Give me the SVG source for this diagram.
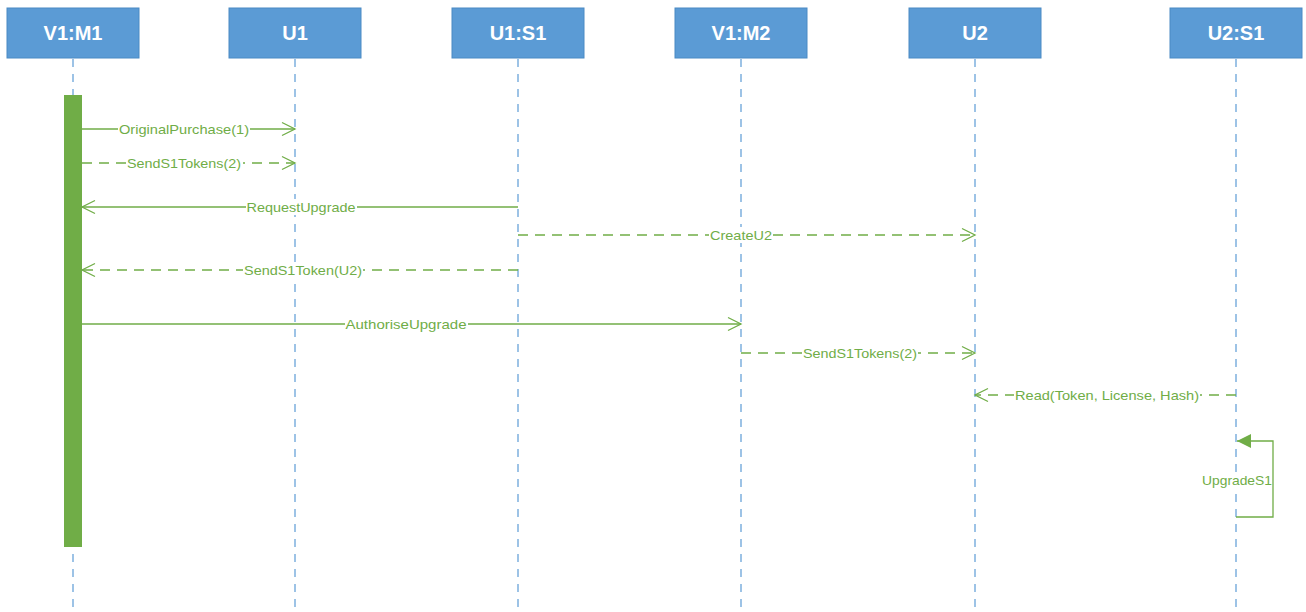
<svg xmlns="http://www.w3.org/2000/svg" width="1306" height="612" viewBox="0 0 1306 612">
<style>
.box{fill:#5B9BD5;stroke:#4A8AC4;stroke-width:1}
.bt{font-family:"Liberation Sans",Arial,sans-serif;font-size:20px;font-weight:bold;fill:#fff;text-anchor:middle}
.life{stroke:#9DC3E6;stroke-width:2;stroke-dasharray:8 7;fill:none}
.msg{stroke:#70AD47;stroke-width:1.3;fill:none}
.dash{stroke-dasharray:10 7}
.lbl{font-family:"Liberation Sans",Arial,sans-serif;font-size:13px;fill:#70AD47;text-anchor:middle}
.bg{fill:#fff}
</style>
<defs>
<marker id="open" markerWidth="16" markerHeight="16" refX="14" refY="8" orient="auto" markerUnits="userSpaceOnUse">
<path d="M1,1.5 L14,8 L1,14.5" fill="none" stroke="#70AD47" stroke-width="1.3"/>
</marker>
<marker id="fill" markerWidth="16" markerHeight="16" refX="15" refY="8" orient="auto" markerUnits="userSpaceOnUse">
<path d="M1,1 L15,8 L1,15 Z" fill="#70AD47"/>
</marker>
</defs>
<rect width="1306" height="612" fill="#fff"/>
<g id="lifelines">
<line class="life" x1="73" y1="59" x2="73" y2="612"/>
<line class="life" x1="295" y1="59" x2="295" y2="612"/>
<line class="life" x1="518" y1="59" x2="518" y2="612"/>
<line class="life" x1="741" y1="59" x2="741" y2="612"/>
<line class="life" x1="975" y1="59" x2="975" y2="612"/>
<line class="life" x1="1236" y1="59" x2="1236" y2="612"/>
</g>
<g id="V1M1"><rect class="box" x="7" y="8" width="132" height="50"/><text class="bt" x="73" y="40">V1:M1</text></g>
<g id="U1"><rect class="box" x="229" y="8" width="132" height="50"/><text class="bt" x="295" y="40">U1</text></g>
<g id="U1S1"><rect class="box" x="452" y="8" width="132" height="50"/><text class="bt" x="518" y="40">U1:S1</text></g>
<g id="V1M2"><rect class="box" x="675" y="8" width="132" height="50"/><text class="bt" x="741" y="40">V1:M2</text></g>
<g id="U2"><rect class="box" x="909" y="8" width="132" height="50"/><text class="bt" x="975" y="40">U2</text></g>
<g id="U2S1"><rect class="box" x="1170" y="8" width="132" height="50"/><text class="bt" x="1236" y="40">U2:S1</text></g>
<g id="activation"><rect x="64" y="95" width="18" height="452" fill="#70AD47"/></g>
<g id="connectors">
<line class="msg" x1="82" y1="129" x2="295" y2="129" marker-end="url(#open)"/>
<rect class="bg" x="118" y="121" width="132" height="16"/>
<text class="lbl" x="184" y="134" textLength="130" lengthAdjust="spacingAndGlyphs">OriginalPurchase(1)</text>

<line class="msg dash" x1="82" y1="163" x2="295" y2="163" marker-end="url(#open)"/>
<rect class="bg" x="126" y="155" width="117" height="16"/>
<text class="lbl" x="184" y="168" textLength="114" lengthAdjust="spacingAndGlyphs">SendS1Tokens(2)</text>

<line class="msg" x1="518" y1="207" x2="82" y2="207" marker-end="url(#open)"/>
<rect class="bg" x="246" y="199" width="111" height="16"/>
<text class="lbl" x="301" y="212" textLength="109" lengthAdjust="spacingAndGlyphs">RequestUpgrade</text>

<line class="msg dash" x1="518" y1="235" x2="975" y2="235" marker-end="url(#open)"/>
<rect class="bg" x="709" y="227" width="64" height="16"/>
<text class="lbl" x="741" y="240" textLength="62" lengthAdjust="spacingAndGlyphs">CreateU2</text>

<line class="msg dash" x1="518" y1="270" x2="82" y2="270" marker-end="url(#open)"/>
<rect class="bg" x="243" y="262" width="120" height="16"/>
<text class="lbl" x="303" y="275" textLength="118" lengthAdjust="spacingAndGlyphs">SendS1Token(U2)</text>

<line class="msg" x1="82" y1="324" x2="741" y2="324" marker-end="url(#open)"/>
<rect class="bg" x="345" y="316" width="123" height="16"/>
<text class="lbl" x="406" y="329" textLength="121" lengthAdjust="spacingAndGlyphs">AuthoriseUpgrade</text>

<line class="msg dash" x1="741" y1="353" x2="975" y2="353" marker-end="url(#open)"/>
<rect class="bg" x="802" y="345" width="116" height="16"/>
<text class="lbl" x="860" y="358" textLength="114" lengthAdjust="spacingAndGlyphs">SendS1Tokens(2)</text>

<line class="msg dash" x1="1236" y1="395" x2="975" y2="395" marker-end="url(#open)"/>
<rect class="bg" x="1014" y="387" width="186" height="16"/>
<text class="lbl" x="1107" y="400" textLength="184" lengthAdjust="spacingAndGlyphs">Read(Token, License, Hash)</text>

<polyline class="msg" points="1236,517 1273,517 1273,441 1237,441" marker-end="url(#fill)"/>
<rect class="bg" x="1202" y="472" width="70" height="16"/>
<text class="lbl" x="1237" y="485" textLength="70" lengthAdjust="spacingAndGlyphs">UpgradeS1</text>
</g>
</svg>
